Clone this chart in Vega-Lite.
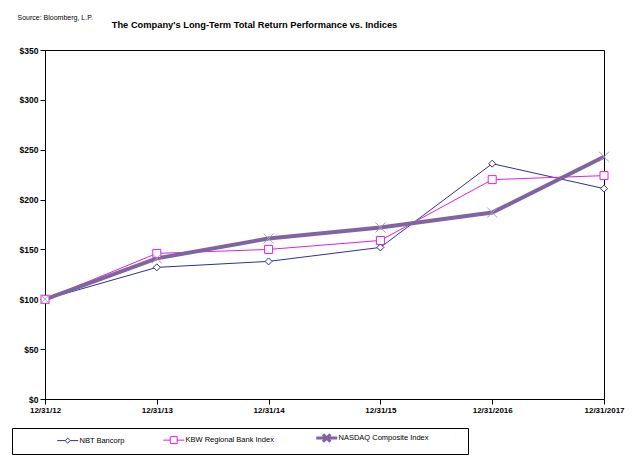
{
  "$schema": "https://vega.github.io/schema/vega-lite/v6.json",
  "autosize": "none",
  "width": 559,
  "height": 349,
  "padding": {"left": 45, "top": 50, "right": 34, "bottom": 60},
  "background": "white",
  "config": {
    "view": {"stroke": "black", "strokeWidth": 1},
    "font": "Liberation Sans",
    "axis": {"grid": false, "domainColor": "black", "tickColor": "black", "labelColor": "black", "labelFontWeight": "bold", "labelFont": "Liberation Sans", "tickSize": 5}
  },
  "title": {
    "text": "The Company's Long-Term Total Return Performance vs. Indices",
    "font": "Liberation Sans",
    "fontSize": 9.3,
    "fontWeight": "bold",
    "color": "black",
    "anchor": "middle",
    "dx": -70,
    "offset": -17
  },
  "data": {
    "values": [
      {"date": "12/31/12", "series": "NBT Bancorp", "value": 100},
      {"date": "12/31/13", "series": "NBT Bancorp", "value": 132},
      {"date": "12/31/14", "series": "NBT Bancorp", "value": 138},
      {"date": "12/31/15", "series": "NBT Bancorp", "value": 152},
      {"date": "12/31/2016", "series": "NBT Bancorp", "value": 236},
      {"date": "12/31/2017", "series": "NBT Bancorp", "value": 211},
      {"date": "12/31/12", "series": "KBW Regional Bank Index", "value": 100},
      {"date": "12/31/13", "series": "KBW Regional Bank Index", "value": 146},
      {"date": "12/31/14", "series": "KBW Regional Bank Index", "value": 150},
      {"date": "12/31/15", "series": "KBW Regional Bank Index", "value": 159},
      {"date": "12/31/2016", "series": "KBW Regional Bank Index", "value": 220},
      {"date": "12/31/2017", "series": "KBW Regional Bank Index", "value": 224},
      {"date": "12/31/12", "series": "NASDAQ Composite Index", "value": 100},
      {"date": "12/31/13", "series": "NASDAQ Composite Index", "value": 141},
      {"date": "12/31/14", "series": "NASDAQ Composite Index", "value": 161},
      {"date": "12/31/15", "series": "NASDAQ Composite Index", "value": 172},
      {"date": "12/31/2016", "series": "NASDAQ Composite Index", "value": 187},
      {"date": "12/31/2017", "series": "NASDAQ Composite Index", "value": 243}
    ]
  },
  "encoding": {
    "x": {
      "field": "date", "type": "ordinal", "sort": null,
      "scale": {"type": "point", "padding": 0},
      "axis": {"title": null, "labelAngle": 0, "labelFontSize": 8, "labelPadding": 2}
    },
    "y": {
      "field": "value", "type": "quantitative",
      "scale": {"domain": [0, 350], "nice": false},
      "axis": {
        "values": [0, 50, 100, 150, 200, 250, 300, 350],
        "format": "$.0f",
        "labelFontSize": 8.5,
        "labelPadding": 2,
        "title": "Source:  Bloomberg, L.P.",
        "titleAngle": 0,
        "titleAlign": "left",
        "titleBaseline": "alphabetic",
        "titleX": -28,
        "titleY": -31,
        "titleFontSize": 7,
        "titleFontWeight": "normal",
        "titleColor": "black",
        "titleFont": "Liberation Sans"
      }
    },
    "color": {
      "field": "series", "type": "nominal", "sort": null,
      "scale": {"domain": ["NBT Bancorp", "KBW Regional Bank Index", "NASDAQ Composite Index"], "range": ["#2E3192", "#E020E0", "#8064A2"]},
      "legend": {
        "orient": "none",
        "legendX": -33,
        "legendY": 378,
        "direction": "horizontal",
        "columns": 3,
        "columnPadding": 36,
        "strokeColor": "black",
        "padding": 6,
        "title": "\u00a0",
        "titleOrient": "left",
        "titleFontSize": 1,
        "titlePadding": 46,
        "labelFontSize": 7.5,
        "labelColor": "black",
        "labelOffset": 8,
        "labelFont": "Liberation Sans",
        "symbolSize": 441,
        "encode": {
          "symbols": {
            "update": {
              "shape": {"signal": "datum.value == 'NBT Bancorp' ? 'M-1,0H-0.24M0.24,0H1M-0.24,0L0,-0.24L0.24,0L0,0.24Z' : datum.value == 'KBW Regional Bank Index' ? 'M-1,0H-0.33M0.33,0H1M-0.33,-0.33H0.33V0.33H-0.33Z' : 'M-1,0H1M-0.35,-0.35L0.35,0.35M-0.35,0.35L0.35,-0.35M12.3,0L12.305,0'"},
              "strokeWidth": {"signal": "datum.value == 'NASDAQ Composite Index' ? 3 : 1"},
              "fill": {"value": "transparent"}
            }
          }
        }
      }
    }
  },
  "layer": [
    {
      "mark": {"type": "line", "strokeJoin": "miter"},
      "encoding": {
        "strokeWidth": {
          "condition": {"test": "datum.series == 'NASDAQ Composite Index'", "value": 4},
          "value": 1
        }
      }
    },
    {
      "mark": {"type": "point", "filled": false, "fill": "white", "fillOpacity": 1, "opacity": 1, "strokeWidth": 1},
      "encoding": {
        "shape": {
          "condition": [
            {"test": "datum.series == 'NBT Bancorp'", "value": "diamond"},
            {"test": "datum.series == 'KBW Regional Bank Index'", "value": "square"}
          ],
          "value": "M-1,-1L1,1M-1,1L1,-1"
        },
        "size": {
          "condition": [
            {"test": "datum.series == 'NBT Bancorp'", "value": 49},
            {"test": "datum.series == 'KBW Regional Bank Index'", "value": 64}
          ],
          "value": 100
        },
        "stroke": {
          "condition": [
            {"test": "datum.series == 'NBT Bancorp'", "value": "#2E3192"},
            {"test": "datum.series == 'KBW Regional Bank Index'", "value": "#E020E0"}
          ],
          "value": "#A09CC0"
        },
        "fillOpacity": {
          "condition": {"test": "datum.series == 'NASDAQ Composite Index'", "value": 0},
          "value": 1
        }
      }
    }
  ]
}
